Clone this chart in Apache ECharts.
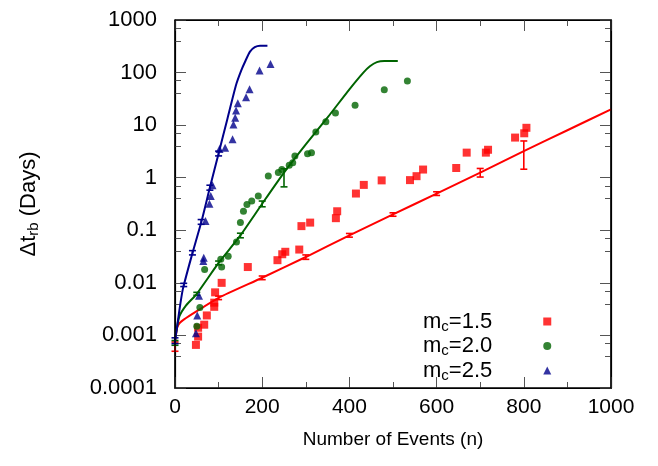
<!DOCTYPE html>
<html>
<head>
<meta charset="utf-8">
<script src="https://cdn.jsdelivr.net/npm/echarts@6/dist/echarts.min.js"></script>
<style>
  html, body { margin: 0; padding: 0; background: #fff; }
  #chart { width: 658px; height: 466px; }
</style>
</head>
<body>
<div id="chart"></div>
<script>
// tick labels
const xTickLabels = ['0', '200', '400', '600', '800', '1000'];
const yTickLabels = ['0.0001', '0.001', '0.01', '0.1', '1', '10', '100', '1000'];

// measured points (n, days)
const redN = [48, 53, 53, 67, 73, 90, 90, 92, 107, 167, 235, 246, 253, 285, 290, 310, 369, 372, 415, 433, 474, 539, 554, 569, 645, 669, 713, 718, 780, 801, 806];
const redV = [0.00066, 0.00095, 0.0014, 0.0016, 0.0024, 0.0035, 0.0042, 0.0066, 0.01, 0.02, 0.027, 0.035, 0.039, 0.043, 0.12, 0.14, 0.17, 0.23, 0.5, 0.73, 0.89, 0.9, 1.07, 1.43, 1.53, 3.0, 3.0, 3.4, 5.8, 7.0, 8.9];

const greenN = [50, 57, 68, 105, 107, 122, 141, 150, 157, 165, 176, 191, 214, 237, 245, 262, 270, 275, 304, 313, 323, 346, 368, 413, 480, 533];
const greenV = [0.0015, 0.0034, 0.018, 0.028, 0.02, 0.032, 0.06, 0.14, 0.23, 0.31, 0.36, 0.45, 1.08, 1.25, 1.44, 1.72, 1.93, 2.6, 2.86, 3.0, 7.4, 11.6, 17, 24, 47, 69];

const blueN = [48, 51, 55, 65, 66, 70, 79, 82, 86, 102, 115, 132, 134, 138, 140, 144, 163, 171, 194, 219];
const blueV = [0.0011, 0.0024, 0.0057, 0.026, 0.03, 0.15, 0.32, 0.45, 0.72, 3.5, 3.7, 5.4, 10.3, 13.8, 19, 26, 34, 48, 110, 146];

// model curves
const redLineN = [0, 2, 5, 10, 20, 50, 100, 200, 300, 400, 500, 600, 700, 800, 900, 1000];
const redLineV = [0.0007, 0.001, 0.0014, 0.0017, 0.002, 0.0029, 0.0052, 0.0125, 0.031, 0.08, 0.2, 0.5, 1.25, 3.2, 8, 20];

const greenLineN = [0, 3, 10, 25, 50, 100, 150, 200, 250, 300, 350, 400, 432, 447, 463, 480, 511];
const greenLineV = [0.0008, 0.0012, 0.0023, 0.0037, 0.0062, 0.024, 0.08, 0.32, 1.25, 4.3, 14, 48, 100, 132, 158, 166, 166];

const blueLineN = [0, 4, 10, 18, 38, 61, 80, 100, 120, 140, 152, 162, 172, 183, 195, 212];
const blueLineV = [0.0008, 0.0013, 0.003, 0.0076, 0.032, 0.15, 0.65, 2.9, 13, 58, 110, 170, 250, 305, 325, 325];

// error bars on the model curves
const redErrN = [0, 100, 200, 300, 400, 500, 600, 700, 800];
const redErrLo = [0.0005, 0.0048, 0.0115, 0.028, 0.074, 0.185, 0.46, 1.03, 1.45];
const redErrHi = [0.00075, 0.0056, 0.0135, 0.034, 0.087, 0.215, 0.54, 1.5, 5.0];

const greenErrN = [0, 50, 100, 150, 200, 250];
const greenErrLo = [0.00065, 0.0058, 0.022, 0.072, 0.28, 0.67];
const greenErrHi = [0.0008, 0.0066, 0.026, 0.088, 0.36, 1.48];

const blueErrN = [0, 20, 40, 60, 80, 100];
const blueErrLo = [0.0007, 0.0085, 0.034, 0.13, 0.58, 2.6];
const blueErrHi = [0.0009, 0.0098, 0.041, 0.16, 0.72, 3.2];

const RED = '#ff0000', GREEN = '#006400', BLUE = '#00008b';
const FONT = 'Liberation Sans';

const pairs = (xs, ys) => xs.map((x, i) => [x, ys[i]]);
const triples = (xs, lo, hi) => xs.map((x, i) => [x, lo[i], hi[i]]);

function errBar(params, api) {
  const x = api.value(0);
  const lo = api.coord([x, api.value(1)]);
  const hi = api.coord([x, api.value(2)]);
  const w = 3.5;
  const style = { stroke: api.visual('color'), lineWidth: 1.6 };
  return {
    type: 'group',
    children: [
      { type: 'line', shape: { x1: lo[0], y1: lo[1], x2: hi[0], y2: hi[1] }, style },
      { type: 'line', shape: { x1: lo[0] - w, y1: lo[1], x2: lo[0] + w, y2: lo[1] }, style },
      { type: 'line', shape: { x1: hi[0] - w, y1: hi[1], x2: hi[0] + w, y2: hi[1] }, style }
    ]
  };
}

// fresh style objects for every axis
const axisLine = () => ({ show: true, onZero: false, lineStyle: { color: '#000', width: 1.2 } });
const tick = () => ({ show: true, inside: true, length: 11, lineStyle: { color: '#555' } });
const minor = n => ({ show: true, splitNumber: n, length: 6, lineStyle: { color: '#555' } });

const chart = echarts.init(document.getElementById('chart'));

const option = {
  animation: false,
  grid: { left: 175, right: 47, top: 20, bottom: 78, show: true, borderColor: '#000', borderWidth: 1.2 },
  legend: {
    orient: 'vertical',
    left: 418,
    top: 304,
    align: 'right',
    itemGap: -0.5,
    itemWidth: 8,
    itemHeight: 8,
    data: [
      { name: 'm=1.5', icon: 'rect' },
      { name: 'm=2.0', icon: 'circle' },
      { name: 'm=2.5', icon: 'triangle' }
    ],
    formatter: name => '{m|m}{s|c}{m|=' + name.slice(2) + '}{g|}',
    textStyle: {
      rich: {
        m: { fontFamily: FONT, fontSize: 22, color: '#000', lineHeight: 22 },
        s: { fontFamily: FONT, fontSize: 15, color: '#000', lineHeight: 22, padding: [10, 0, 0, 0] },
        g: { width: 46 }
      }
    }
  },
  xAxis: [
    {
      type: 'value', min: 0, max: 1000, interval: 200,
      name: 'Number of Events (n)', nameLocation: 'middle', nameGap: 42,
      nameTextStyle: { fontFamily: FONT, fontSize: 19, color: '#000' },
      axisLine: axisLine(), axisTick: tick(), minorTick: minor(2),
      axisLabel: {
        fontFamily: FONT, fontSize: 21, color: '#000', margin: 9,
        formatter: v => xTickLabels[Math.round(v / 200)]
      },
      splitLine: { show: false }
    },
    {
      type: 'value', position: 'top', min: 0, max: 1000, interval: 200,
      axisLine: axisLine(), axisTick: tick(), minorTick: minor(2),
      axisLabel: { show: false }, splitLine: { show: false }
    }
  ],
  yAxis: [
    {
      type: 'log', logBase: 10, min: 0.0001, max: 1000, splitNumber: 7,
      name: '{a|Δt}{b|rb}{a| (Days)}', nameLocation: 'middle', nameGap: 134, nameRotate: 90,
      nameTextStyle: {
        rich: {
          a: { fontFamily: FONT, fontSize: 22, color: '#000', lineHeight: 24 },
          b: { fontFamily: FONT, fontSize: 15, color: '#000', lineHeight: 24, padding: [10, 0, 0, 0] }
        }
      },
      axisLine: axisLine(), axisTick: tick(), minorTick: minor(3),
      axisLabel: {
        fontFamily: FONT, fontSize: 22, color: '#000', margin: 18,
        formatter: v => yTickLabels[Math.round(Math.log10(v)) + 4]
      },
      splitLine: { show: false }
    },
    {
      type: 'log', logBase: 10, min: 0.0001, max: 1000, splitNumber: 7, position: 'right',
      axisLine: axisLine(), axisTick: tick(), minorTick: minor(3),
      axisLabel: { show: false }, splitLine: { show: false }
    }
  ],
  series: [
    // red model curve sits on the top/right twin axes (same scales)
    { type: 'line', xAxisIndex: 1, yAxisIndex: 1, data: pairs(redLineN, redLineV), smooth: 0.2, showSymbol: false, lineStyle: { color: RED, width: 2 }, z: 2 },
    { type: 'line', data: pairs(greenLineN, greenLineV), smooth: 0.2, showSymbol: false, lineStyle: { color: GREEN, width: 2 }, z: 2 },
    { type: 'line', data: pairs(blueLineN, blueLineV), smooth: 0.2, showSymbol: false, lineStyle: { color: BLUE, width: 2 }, z: 2 },
    { type: 'custom', renderItem: errBar, data: triples(redErrN, redErrLo, redErrHi), itemStyle: { color: RED }, encode: { x: 0, y: [1, 2] }, z: 3 },
    { type: 'custom', renderItem: errBar, data: triples(greenErrN, greenErrLo, greenErrHi), itemStyle: { color: GREEN }, encode: { x: 0, y: [1, 2] }, z: 3 },
    { type: 'custom', renderItem: errBar, data: triples(blueErrN, blueErrLo, blueErrHi), itemStyle: { color: BLUE }, encode: { x: 0, y: [1, 2] }, z: 3 },
    { name: 'm=1.5', type: 'scatter', data: pairs(redN, redV), symbol: 'rect', symbolSize: 8, itemStyle: { color: RED }, z: 4 },
    { name: 'm=2.0', type: 'scatter', data: pairs(greenN, greenV), symbol: 'circle', symbolSize: 7, itemStyle: { color: GREEN }, z: 4 },
    { name: 'm=2.5', type: 'scatter', data: pairs(blueN, blueV), symbol: 'triangle', symbolSize: 8, itemStyle: { color: BLUE }, z: 4 }
  ]
};

chart.setOption(option);

// plot frame taken from the grid's own rect
try {
  const rect = chart.getModel().getComponent('grid', 0).coordinateSystem.getRect();
  chart.setOption({
    graphic: [{
      type: 'rect', silent: true, z: 10,
      shape: { x: rect.x, y: rect.y, width: rect.width, height: rect.height },
      style: { fill: 'none', stroke: '#000', lineWidth: 1.2 }
    }]
  });
} catch (e) {}
</script>
</body>
</html>
